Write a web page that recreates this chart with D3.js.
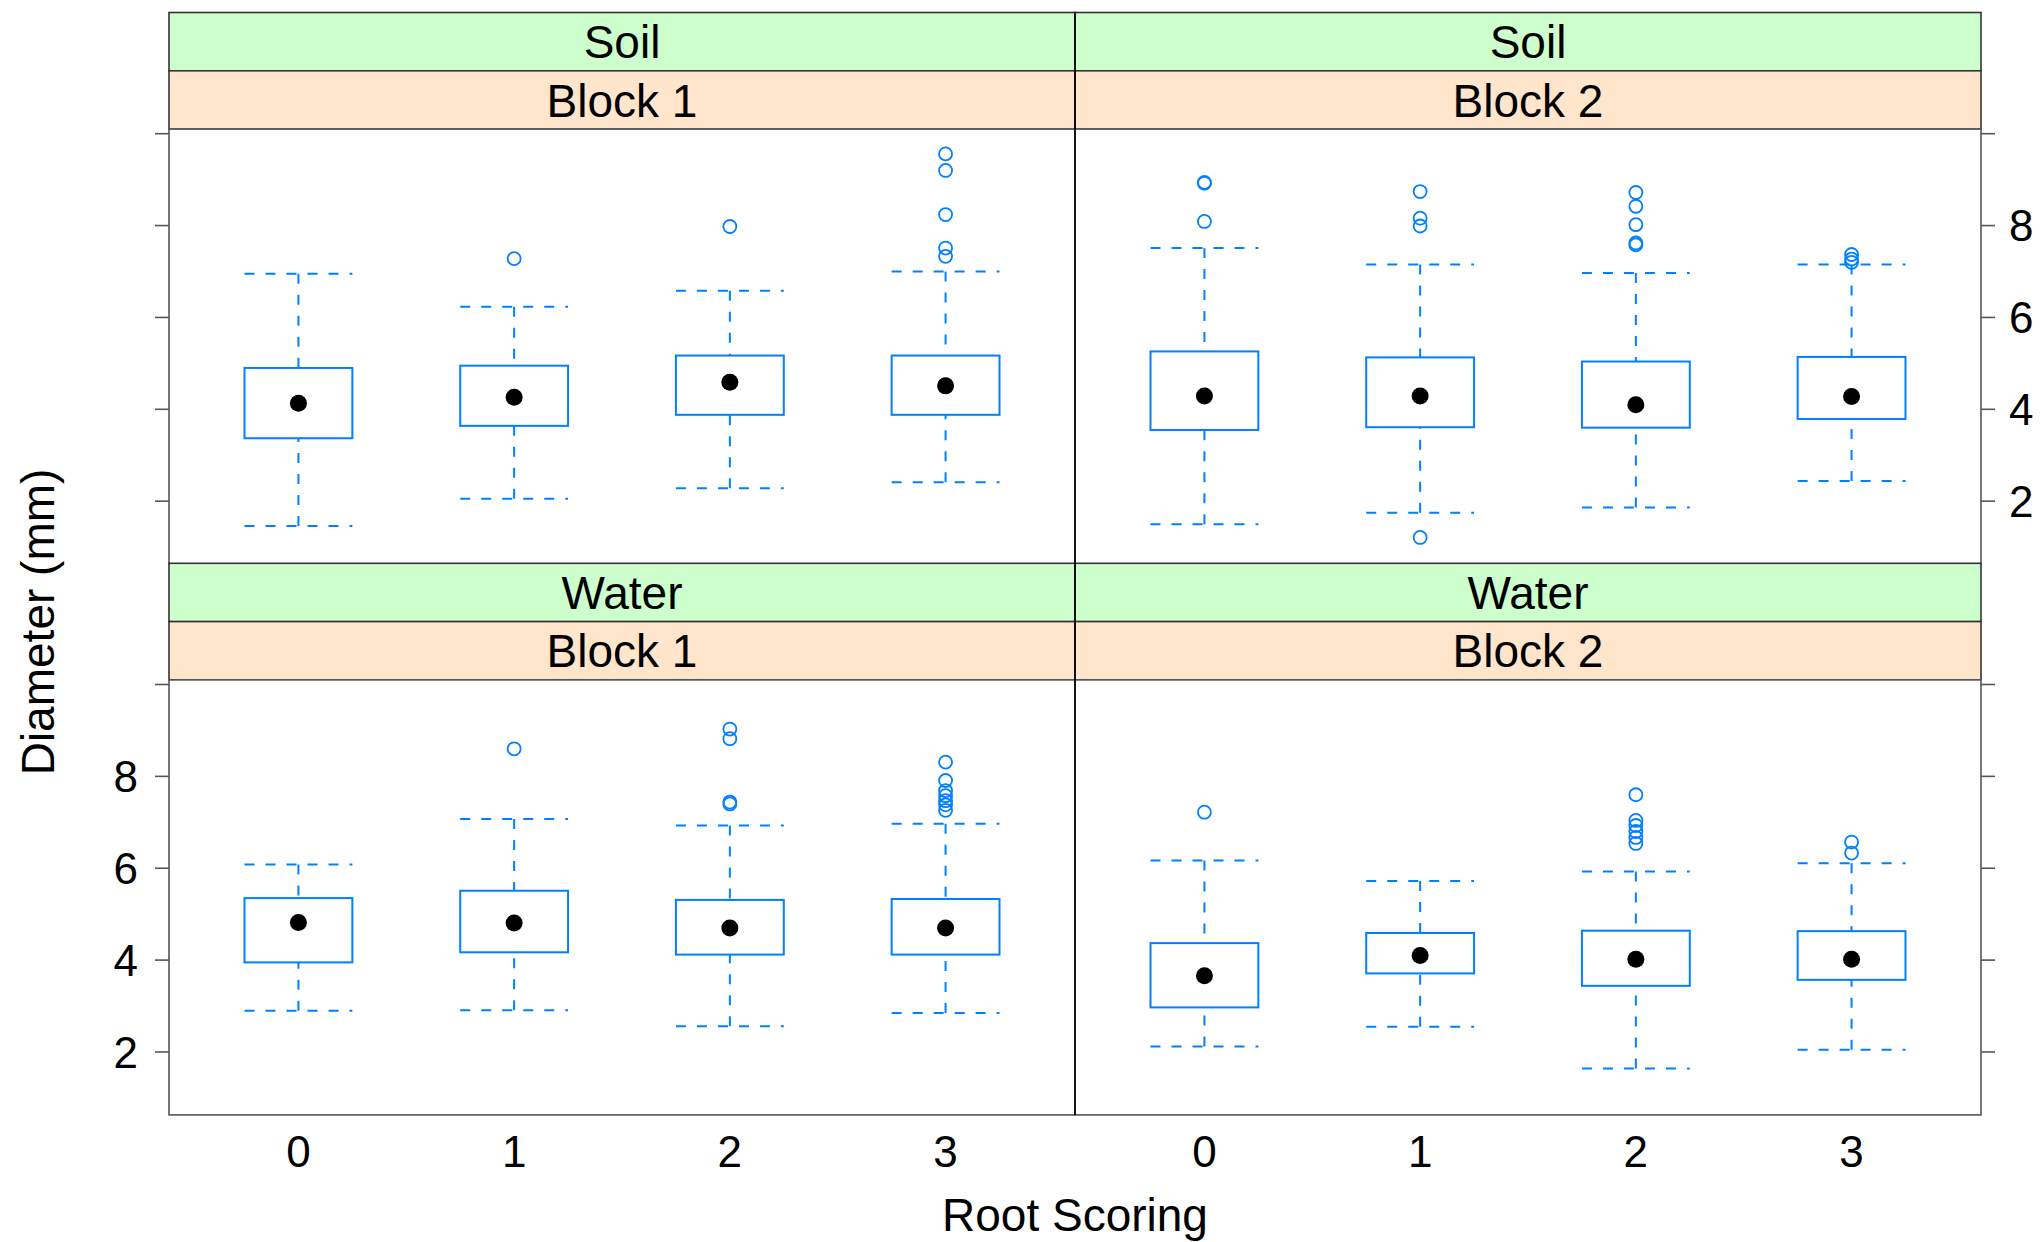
<!DOCTYPE html>
<html>
<head>
<meta charset="utf-8">
<script src="https://cdn.jsdelivr.net/npm/d3@7"></script>
<style>
  html, body { margin: 0; padding: 0; background: #fff; }
  svg { display: block; font-family: "Liberation Sans", Arial, Helvetica, sans-serif; }
</style>
</head>
<body>
<svg id="chart" width="2043" height="1242"></svg>
<script>
// Root scoring categories and panel conditioning levels
const scores = ["0", "1", "2", "3"];
const media = ["Soil", "Water"];
const blocks = ["Block 1", "Block 2"];

// Panel order: Soil/Block 1, Soil/Block 2, Water/Block 1, Water/Block 2
const lowerWhisker = [
  [1.46, 2.05, 2.28, 2.41],
  [1.50, 1.75, 1.86, 2.44],
  [2.90, 2.91, 2.56, 2.85],
  [2.12, 2.55, 1.64, 2.05]
];
const lowerHinge = [
  [3.37, 3.64, 3.88, 3.88],
  [3.55, 3.61, 3.60, 3.79],
  [3.95, 4.17, 4.12, 4.12],
  [2.97, 3.71, 3.44, 3.57]
];
const medians = [
  [4.13, 4.26, 4.59, 4.51],
  [4.29, 4.29, 4.10, 4.28],
  [4.82, 4.81, 4.70, 4.70],
  [3.66, 4.10, 4.02, 4.02]
];
const upperHinge = [
  [4.90, 4.95, 5.17, 5.17],
  [5.26, 5.13, 5.04, 5.14],
  [5.35, 5.51, 5.31, 5.33],
  [4.37, 4.59, 4.64, 4.63]
];
const upperWhisker = [
  [6.95, 6.23, 6.58, 7.00],
  [7.51, 7.15, 6.97, 7.15],
  [6.08, 7.07, 6.93, 6.97],
  [6.17, 5.72, 5.93, 6.11]
];
const outliers = [
  [[], [7.28], [7.98], [9.56, 9.20, 8.24, 7.51, 7.33]],
  [[8.94, 8.92, 8.09], [8.74, 8.16, 7.99, 1.21], [8.72, 8.42, 8.02, 7.62, 7.58], [7.37, 7.27, 7.20]],
  [[], [8.60], [9.03, 8.82, 7.44, 7.40], [8.31, 7.91, 7.69, 7.58, 7.47, 7.38, 7.26]],
  [[7.22], [], [7.60, 7.04, 6.93, 6.80, 6.67, 6.54], [6.57, 6.33]]
];
const yTicks = [2, 4, 6, 8, 10];
const yTickLabels = ["2", "4", "6", "8", ""];

const svg = d3.select("#chart");

// Layout
const left = 169, right = 1981;
const colW = (right - left) / 2;
const rowTop = [12.5, 563.3];
const stripH = 58.3;
const panelH = 435;
const blue = "#0080ff";
const fontSize = 46;
const tickFont = 44;

const x = d3.scaleLinear().domain([-0.6, 3.6]);
const y = d3.scaleLinear().domain([0.63, 10.1]);
const boxW = 0.5;

media.forEach((m, r) => {
  blocks.forEach((b, c) => {
    const p = r * 2 + c;
    const x0 = left + c * colW;
    const top = rowTop[r];
    const pTop = top + 2 * stripH;
    const pBot = pTop + panelH;
    const xs = x.copy().range([x0, x0 + colW]);
    const ys = y.copy().range([pBot, pTop]);
    const g = svg.append("g");

    // strips: outer factor (green) above inner factor (orange)
    const strips = [
      { label: m, fill: "#ccffcc", y0: top },
      { label: b, fill: "#ffe5cc", y0: top + stripH }
    ];
    strips.forEach(s => {
      g.append("rect")
        .attr("x", x0).attr("y", s.y0)
        .attr("width", colW).attr("height", stripH)
        .attr("fill", s.fill)
        .attr("stroke", "#333").attr("stroke-width", 1.6);
      g.append("text")
        .attr("x", x0 + colW / 2).attr("y", s.y0 + stripH / 2)
        .attr("dy", "0.36em")
        .attr("text-anchor", "middle")
        .attr("font-size", fontSize)
        .attr("fill", "#000")
        .text(s.label);
    });

    // panel frame
    g.append("rect")
      .attr("x", x0).attr("y", pTop)
      .attr("width", colW).attr("height", panelH)
      .attr("fill", "#fff")
      .attr("stroke", "#555").attr("stroke-width", 1.6);

    // boxes
    scores.forEach((s, i) => {
      const cx = xs(i);
      const hw = (xs(boxW) - xs(0)) / 2;
      const bg = g.append("g");
      // whiskers (dashed umbrella)
      [[upperHinge[p][i], upperWhisker[p][i]], [lowerHinge[p][i], lowerWhisker[p][i]]].forEach(([h, w]) => {
        bg.append("line")
          .attr("x1", cx).attr("x2", cx)
          .attr("y1", ys(w)).attr("y2", ys(h))
          .attr("stroke", blue).attr("stroke-width", 2)
          .attr("stroke-dasharray", "10,11");
        bg.append("line")
          .attr("x1", cx - hw).attr("x2", cx + hw)
          .attr("y1", ys(w)).attr("y2", ys(w))
          .attr("stroke", blue).attr("stroke-width", 2)
          .attr("stroke-dasharray", "10,11");
      });
      // box
      bg.append("rect")
        .attr("x", cx - hw).attr("y", ys(upperHinge[p][i]))
        .attr("width", 2 * hw)
        .attr("height", ys(lowerHinge[p][i]) - ys(upperHinge[p][i]))
        .attr("fill", "none")
        .attr("stroke", blue).attr("stroke-width", 2);
      // outliers
      bg.selectAll("circle.out").data(outliers[p][i]).join("circle")
        .attr("class", "out")
        .attr("cx", cx).attr("cy", d => ys(d))
        .attr("r", 6.5)
        .attr("fill", "none")
        .attr("stroke", blue).attr("stroke-width", 1.8);
      // median dot
      bg.append("circle")
        .attr("cx", cx).attr("cy", ys(medians[p][i]))
        .attr("r", 8.5)
        .attr("fill", "#000");
    });

    // y axis ticks: left on left column, right on right column
    if (c === 0) {
      const ax = g.append("g");
      yTicks.forEach((t, k) => {
        ax.append("line")
          .attr("x1", x0 - 14).attr("x2", x0)
          .attr("y1", ys(t)).attr("y2", ys(t))
          .attr("stroke", "#555").attr("stroke-width", 1.6);
        if (r === 1 && yTickLabels[k]) {
          ax.append("text")
            .attr("x", x0 - 31).attr("y", ys(t))
            .attr("dy", "0.36em")
            .attr("text-anchor", "end")
            .attr("font-size", tickFont)
            .text(yTickLabels[k]);
        }
      });
    } else {
      const ax = g.append("g");
      yTicks.forEach((t, k) => {
        ax.append("line")
          .attr("x1", x0 + colW).attr("x2", x0 + colW + 14)
          .attr("y1", ys(t)).attr("y2", ys(t))
          .attr("stroke", "#555").attr("stroke-width", 1.6);
        if (r === 0 && yTickLabels[k]) {
          ax.append("text")
            .attr("x", x0 + colW + 28).attr("y", ys(t))
            .attr("dy", "0.36em")
            .attr("text-anchor", "start")
            .attr("font-size", tickFont)
            .text(yTickLabels[k]);
        }
      });
    }

    // x labels under the bottom row
    if (r === 1) {
      scores.forEach((s, i) => {
        g.append("text")
          .attr("x", xs(i)).attr("y", 1167)
          .attr("text-anchor", "middle")
          .attr("font-size", tickFont)
          .text(s);
      });
    }
  });
});

// divider between the two columns
svg.append("line")
  .attr("x1", left + colW).attr("x2", left + colW)
  .attr("y1", rowTop[0]).attr("y2", rowTop[1] + 2 * stripH + panelH)
  .attr("stroke", "#000").attr("stroke-width", 1.6);

// axis titles
svg.append("text")
  .attr("x", left + colW).attr("y", 1231)
  .attr("text-anchor", "middle")
  .attr("font-size", fontSize)
  .text("Root Scoring");

svg.append("text")
  .attr("transform", "translate(54,622) rotate(-90)")
  .attr("text-anchor", "middle")
  .attr("font-size", fontSize)
  .text("Diameter (mm)");
</script>
</body>
</html>
